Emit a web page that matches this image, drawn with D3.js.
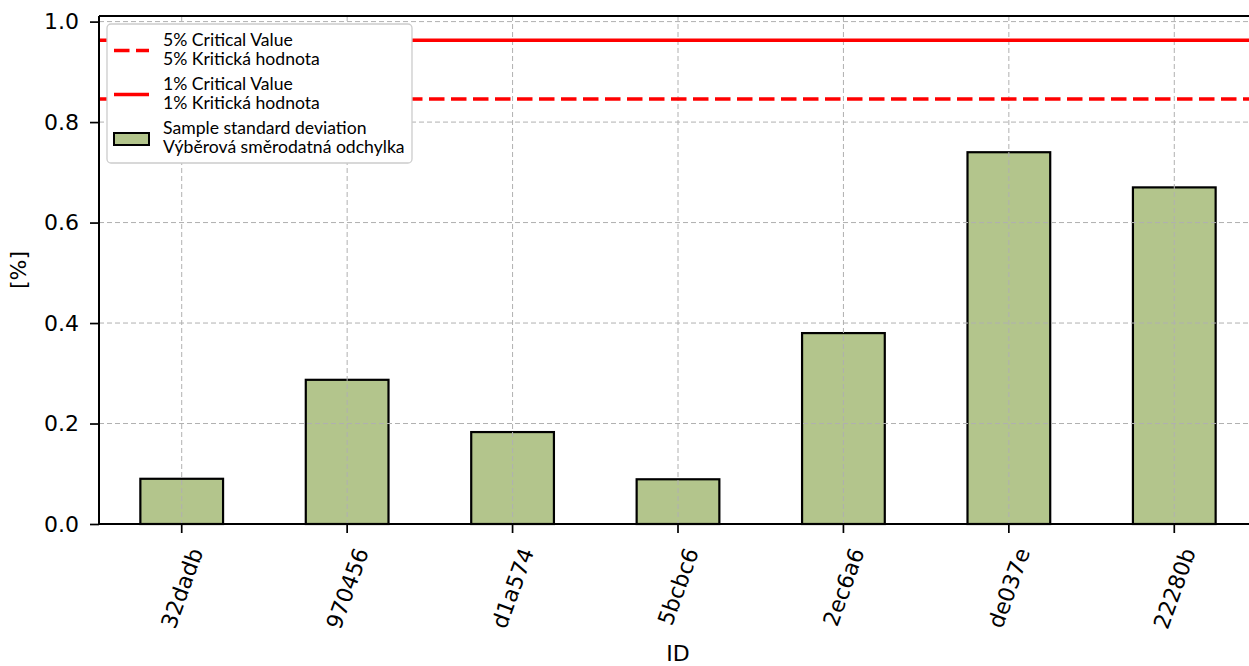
<!DOCTYPE html>
<html>
<head>
<meta charset="utf-8">
<script src="https://cdn.jsdelivr.net/npm/d3@7"></script>
<style>
  html, body { margin: 0; padding: 0; background: #fff; overflow: hidden; }
  svg { display: block; }
</style>
</head>
<body>
<svg id="chart" width="1249" height="666"></svg>
<script>
// ---- data ----
const categories = ["32dadb", "970456", "d1a574", "5bcbc6", "2ec6a6", "de037e", "22280b"];
const stdValues = [0.090, 0.287, 0.183, 0.089, 0.380, 0.740, 0.670];
const critical5 = 0.846;
const critical1 = 0.963;
const yTicks = [0.0, 0.2, 0.4, 0.6, 0.8, 1.0];
const legendLabels = [
  ["5% Critical Value", "5% Kritická hodnota"],
  ["1% Critical Value", "1% Kritická hodnota"],
  ["Sample standard deviation", "Výběrová směrodatná odchylka"]
];
const xLabel = "ID";
const yLabel = "[%]";

// ---- layout ----
const pLeft = 99, pRight = 1257, pTop = 16, pBottom = 524;
const tickFont = "'DejaVu Sans', sans-serif";
const tickSize = 22;
const barFill = "#b3c58c";

const svg = d3.select("#chart");

const x = d3.scaleBand().domain(categories).range([pLeft, pRight])
  .paddingInner(0.5).paddingOuter(0.25);
const yMax = critical1 * 1.05;
const y = d3.scaleLinear().domain([0, yMax]).range([pBottom, pTop]);

const gBars = svg.append("g");
const gGrid = svg.append("g");
const gLines = svg.append("g");
const gAxes = svg.append("g");
const gLegend = svg.append("g");

// bars
gBars.selectAll("rect").data(categories).join("rect")
  .attr("x", d => x(d))
  .attr("y", (d, i) => y(stdValues[i]))
  .attr("width", x.bandwidth())
  .attr("height", (d, i) => y(0) - y(stdValues[i]))
  .attr("fill", barFill)
  .attr("stroke", "#000")
  .attr("stroke-width", 2.2);

// grid lines
gGrid.selectAll("line.h").data(yTicks).join("line")
  .attr("class", "h")
  .attr("x1", pLeft).attr("x2", pRight)
  .attr("y1", d => y(d)).attr("y2", d => y(d))
  .attr("stroke", "#b0b0b0").attr("stroke-width", 1)
  .attr("stroke-dasharray", "5,3");
gGrid.selectAll("line.v").data(categories).join("line")
  .attr("class", "v")
  .attr("x1", d => x(d) + x.bandwidth() / 2).attr("x2", d => x(d) + x.bandwidth() / 2)
  .attr("y1", pTop).attr("y2", pBottom)
  .attr("stroke", "#b0b0b0").attr("stroke-width", 1)
  .attr("stroke-dasharray", "5,3");

// critical lines
gLines.append("line")
  .attr("x1", pLeft).attr("x2", pRight)
  .attr("y1", y(critical5)).attr("y2", y(critical5))
  .attr("stroke", "#ff0000").attr("stroke-width", 3.5)
  .attr("stroke-dasharray", "15.5,6.5");
gLines.append("line")
  .attr("x1", pLeft).attr("x2", pRight)
  .attr("y1", y(critical1)).attr("y2", y(critical1))
  .attr("stroke", "#ff0000").attr("stroke-width", 3.5);

// axes
const yAxis = d3.axisLeft(y).tickValues(yTicks).tickFormat(d3.format(".1f"))
  .tickSize(9).tickPadding(11);
const gy = gAxes.append("g").attr("transform", `translate(${pLeft},0)`).call(yAxis);
gy.select(".domain").remove();
gy.selectAll(".tick line").attr("stroke", "#000").attr("stroke-width", 1.7);
gy.selectAll(".tick text").attr("font-family", tickFont).attr("font-size", tickSize).attr("fill", "#000");

const xAxis = d3.axisBottom(x).tickSize(9).tickFormat("");
const gx = gAxes.append("g").attr("transform", `translate(0,${pBottom})`).call(xAxis);
gx.select(".domain").remove();
gx.selectAll(".tick line").attr("stroke", "#000").attr("stroke-width", 1.7);

// spines
gAxes.append("line").attr("x1", pLeft).attr("x2", pLeft).attr("y1", pTop).attr("y2", pBottom)
  .attr("stroke", "#000").attr("stroke-width", 2);
gAxes.append("line").attr("x1", pLeft).attr("x2", pRight).attr("y1", pBottom).attr("y2", pBottom)
  .attr("stroke", "#000").attr("stroke-width", 2);
gAxes.append("line").attr("x1", pLeft).attr("x2", pRight).attr("y1", pTop).attr("y2", pTop)
  .attr("stroke", "#000").attr("stroke-width", 2);
gAxes.append("line").attr("x1", pRight).attr("x2", pRight).attr("y1", pTop).attr("y2", pBottom)
  .attr("stroke", "#000").attr("stroke-width", 2);

// rotated x tick labels
const angle = 70 * Math.PI / 180;
categories.forEach(c => {
  const t = gAxes.append("text")
    .attr("font-family", tickFont).attr("font-size", tickSize)
    .attr("text-anchor", "middle").attr("dy", "0.36em")
    .attr("fill", "#000")
    .text(c);
  const w = t.node().getComputedTextLength();
  const bh = w * Math.sin(angle) + 0.75 * tickSize * Math.cos(angle);
  const cx = x(c) + x.bandwidth() / 2;
  const cy = 546 + bh / 2;
  t.attr("transform", `translate(${cx},${cy}) rotate(-70)`);
});

// axis labels
gAxes.append("text")
  .attr("x", (pLeft + pRight) / 2).attr("y", 661)
  .attr("text-anchor", "middle")
  .attr("font-family", tickFont).attr("font-size", tickSize)
  .text(xLabel);
gAxes.append("text")
  .attr("transform", `translate(26,${(pTop + pBottom) / 2}) rotate(-90)`)
  .attr("text-anchor", "middle")
  .attr("font-family", tickFont).attr("font-size", tickSize)
  .text(yLabel);

// legend
const legFont = "Lato, 'Liberation Sans', sans-serif";
const legSize = 17.6;
gLegend.append("rect")
  .attr("x", 107).attr("y", 24).attr("width", 305).attr("height", 139)
  .attr("rx", 4).attr("ry", 4)
  .attr("fill", "#fff")
  .attr("stroke", "#cccccc").attr("stroke-width", 1.3);

const entryTop = 46, entryStep = 44;
legendLabels.forEach((lines, i) => {
  const base = entryTop + i * entryStep;
  const hy = base + 4.5;
  if (i === 0) {
    gLegend.append("line").attr("x1", 114).attr("x2", 149).attr("y1", hy).attr("y2", hy)
      .attr("stroke", "#ff0000").attr("stroke-width", 3.5).attr("stroke-dasharray", "15.5,6.5");
  } else if (i === 1) {
    gLegend.append("line").attr("x1", 114).attr("x2", 149).attr("y1", hy).attr("y2", hy)
      .attr("stroke", "#ff0000").attr("stroke-width", 3.5);
  } else {
    gLegend.append("rect").attr("x", 114).attr("y", hy - 5.5).attr("width", 35).attr("height", 12)
      .attr("fill", barFill).attr("stroke", "#000").attr("stroke-width", 2);
  }
  const t = gLegend.append("text")
    .attr("x", 163).attr("y", base)
    .attr("font-family", legFont).attr("font-size", legSize)
    .attr("fill", "#000");
  lines.forEach((ln, j) => {
    t.append("tspan")
      .attr("x", 163).attr("y", base + j * 18.5)
      .text(ln);
  });
});
</script>
</body>
</html>
